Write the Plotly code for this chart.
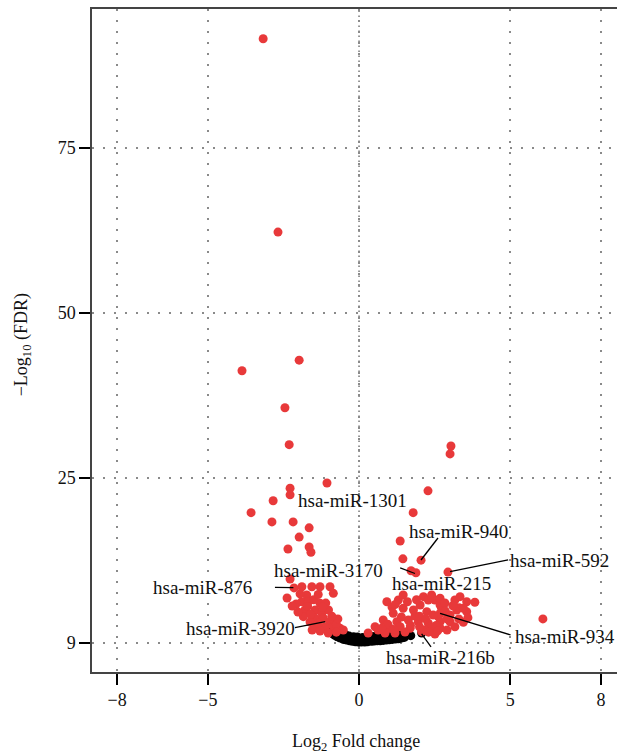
import plotly.graph_objects as go

# ---- data (log2 fold change, -log10 FDR plotting coordinate) ----
sig_x = [-3.17, -2.68, -1.98, -3.87, -2.45, -2.31, -1.06, -2.28, -2.28, -2.84,
         -3.57, -2.88, -2.18, -1.65, -1.98, -1.65, -1.59, -2.35, -2.28, -2.15,
         3.04, 3.01, 2.28, 1.79, 1.36, 1.45, 2.05, 1.88, 1.72, 2.94, 6.08,
         -1.89, -1.56, -1.29, -0.96, -0.85, -1.73, -1.89, -1.68, -1.29, -1.79,
         -1.45, -1.23, -1.01, -1.84, -1.45, -1.18, -0.96, -1.12, -0.85, -0.63,
         -0.52, -1.40, -1.62, -2.08, -2.02, -1.55, -1.29, -1.02, -2.38, -2.21,
         -1.70, -1.50, -1.35, -1.10, -1.35, -0.75, -0.70, -1.60, -1.95, -1.20,
         -0.90, -0.75,
         0.92, 1.30, 1.46, 2.13, 2.29, 2.51, 2.68, 2.40, 3.17, 3.34,
         3.56, 3.83, 3.56, 3.23, 3.01, 2.68, 2.24, 1.80, 1.46, 1.13,
         0.80, 0.53, 1.25, 1.63, 1.96, 2.29, 2.68, 3.01, 3.17, 1.69,
         1.36, 1.02, 2.40, 2.07, 3.60, 3.31, 3.45, 2.73, 2.68, 2.40,
         2.62, 0.63, 0.30, 0.86, 1.19, 1.52, 2.68, 2.91, 1.85, 1.09,
         2.02, 2.84, 2.18, 2.51,
         1.20, 1.60, 1.90, 2.00, 2.20, 2.45, 2.85, 3.10, 3.30, 1.40,
         1.70, 2.00, 2.55, 0.95, 0.75, 1.15, 2.30, 2.60, 3.45, 2.90]
sig_y = [91.5, 62.2, 42.8, 41.2, 35.6, 30.0, 24.2, 23.4, 22.4, 21.5,
         19.7, 18.3, 18.3, 17.4, 16.0, 14.5, 13.7, 14.2, 9.65, 8.3,
         29.8, 28.6, 23.0, 19.7, 15.4, 12.7, 12.5, 10.6, 10.9, 10.7, 3.6,
         8.48, 8.48, 8.48, 8.48, 7.48, 7.23, 6.21, 6.21, 5.97, 4.95,
         4.95, 4.45, 4.95, 3.94, 3.70, 3.70, 3.18, 2.42, 2.42, 2.18,
         1.92, 2.42, 3.14, 5.86, 4.65, 1.92, 1.77, 1.47, 6.77, 5.56,
         5.50, 6.50, 7.30, 6.00, 3.00, 2.80, 3.60, 4.30, 7.40, 5.40,
         4.00, 1.60,
         6.21, 6.47, 7.23, 6.97, 6.47, 6.47, 5.71, 7.23, 6.47, 6.97,
         6.21, 6.12, 4.70, 4.95, 4.20, 4.45, 4.70, 4.95, 5.21, 4.45,
         3.44, 2.42, 3.18, 3.44, 3.18, 2.94, 3.18, 3.18, 2.42, 2.18,
         2.42, 2.18, 2.18, 1.67, 3.79, 5.30, 5.21, 5.21, 6.73, 6.88,
         3.94, 1.92, 1.47, 1.47, 1.47, 1.62, 2.23, 1.92, 4.05, 5.39,
         5.71, 6.02, 1.92, 1.32,
         5.80, 6.20, 6.50, 4.00, 3.60, 4.20, 4.80, 5.60, 3.60, 3.90,
         2.60, 2.40, 2.60, 2.80, 2.20, 2.00, 1.60, 1.80, 3.10, 3.60]

ns_x = [-0.85, -0.80, -0.80, -0.72, -0.70, -0.62, -0.60, -0.52, -0.50, -0.41,
        -0.40, -0.31, -0.30, -0.22, -0.20, -0.12, -0.10, -0.02, 0.00, 0.08,
        0.10, 0.19, 0.20, 0.28, 0.30, 0.41, 0.40, 0.50, 0.52, 0.60, 0.61,
        0.70, 0.72, 0.80, 0.81, 0.90, 0.92, 1.00, 1.01, 1.10, 1.12, 1.20,
        1.21, 1.30, 1.32, 1.40, 1.41, 1.50, 1.52, 1.71, 2.07, -0.66, 0.05,
        0.35, 0.65, 0.95, 1.25, -0.35, -0.15,
        -0.78, -0.68, -0.56, -0.45, -0.33, -0.18, -0.05, 0.12, 0.25, 0.45,
        0.58, 0.75, 0.88, 1.05, 1.18, 1.35, 1.46, -0.88, -0.62]
ns_y = [1.30, 1.10, 1.55, 0.90, 1.30, 0.70, 1.10, 0.50, 0.90, 0.40,
        0.80, 0.30, 0.70, 0.20, 0.60, 0.15, 0.55, 0.10, 0.50, 0.10,
        0.50, 0.10, 0.50, 0.15, 0.55, 0.20, 0.60, 0.25, 0.65, 0.30, 0.70,
        0.30, 0.75, 0.35, 0.80, 0.40, 0.85, 0.45, 0.90, 0.50, 0.95, 0.55,
        1.00, 0.60, 1.05, 0.70, 1.10, 0.80, 1.15, 1.06, 1.47, 1.00, 0.30,
        0.35, 0.50, 0.65, 0.85, 0.55, 0.40,
        1.85, 1.60, 1.40, 1.20, 1.00, 0.90, 0.85, 0.80, 0.85, 0.95,
        1.00, 1.10, 1.15, 1.20, 1.25, 1.35, 1.40, 1.75, 1.80]

# labels: text, text x, text y, anchor
lab_text = ["hsa-miR-1301", "hsa-miR-940", "hsa-miR-592", "hsa-miR-215",
            "hsa-miR-3170", "hsa-miR-876", "hsa-miR-3920", "hsa-miR-934",
            "hsa-miR-216b"]
lab_x = [-2.08, 1.59, 4.93, 1.02, -2.88, -3.47, -2.05, 5.09, 0.83]
lab_y = [21.6, 16.8, 12.4, 8.9, 10.9, 8.4, 2.1, 0.9, -2.2]
lab_anchor = ["left", "left", "left", "left", "left", "right", "right", "left", "left"]

# leader lines: start (x0,y0) -> end (x1,y1)
lead_x0 = [-2.78, -2.12, 1.36, 2.05, 3.01, 2.68, 2.07]
lead_y0 = [8.39, 2.27, 11.32, 12.53, 10.76, 4.45, 1.32]
lead_x1 = [-2.17, -1.12, 1.85, 2.61, 4.93, 5.01, 2.38]
lead_y1 = [8.33, 3.18, 10.48, 15.86, 12.53, 1.17, -0.65]

x_tick_vals = [-8, -5, 0, 5, 8]
x_tick_text = ["\u22128", "\u22125", "0", "5", "8"]
y_tick_vals = [0, 25, 50, 75]
y_tick_text = ["9", "25", "50", "75"]

FONT = "Liberation Serif"

fig = go.Figure()
fig.add_trace(go.Scatter(x=ns_x, y=ns_y, mode="markers",
                         marker=dict(color="black", size=9, line=dict(width=0)),
                         hoverinfo="skip", showlegend=False))
fig.add_trace(go.Scatter(x=sig_x, y=sig_y, mode="markers",
                         marker=dict(color="#E8393A", size=9, line=dict(width=0)),
                         hoverinfo="skip", showlegend=False))

lx, ly = [], []
for a, b, c, d in zip(lead_x0, lead_y0, lead_x1, lead_y1):
    lx += [a, c, None]
    ly += [b, d, None]
fig.add_trace(go.Scatter(x=lx, y=ly, mode="lines",
                         line=dict(color="black", width=1.3),
                         hoverinfo="skip", showlegend=False))

for t, x, y, anc in zip(lab_text, lab_x, lab_y, lab_anchor):
    fig.add_annotation(x=x, y=y, xref="x", yref="y", text=t, showarrow=False,
                       xanchor=anc, yanchor="middle",
                       font=dict(family=FONT, size=19, color="#111"))

# dense dotted line at 0
fig.add_shape(type="line", x0=0, x1=0, y0=0, y1=1, xref="x", yref="paper",
              line=dict(color="#777", width=1.5, dash="1.5px,3.5px"), layer="below")

fig.add_annotation(x=0.503, y=-0.106, xref="paper", yref="paper",
                   text="Log<sub>2</sub> Fold change", showarrow=False,
                   xanchor="center", yanchor="middle",
                   font=dict(family=FONT, size=18, color="#111"))
fig.add_annotation(x=-0.133, y=0.493, xref="paper", yref="paper",
                   text="\u2212Log<sub>10</sub> (FDR)", showarrow=False, textangle=-90,
                   xanchor="center", yanchor="middle",
                   font=dict(family=FONT, size=18, color="#111"))

axis_common = dict(showline=True, linecolor="#444", linewidth=1.5,
                   ticks="outside", ticklen=11, tickwidth=2, tickcolor="black",
                   showgrid=True, gridcolor="#8a8a8a", gridwidth=1.5,
                   griddash="1.5px,9.5px", zeroline=False,
                   tickfont=dict(family=FONT, size=18, color="#111"))

fig.update_xaxes(range=[-8.83, 8.53], tickmode="array", tickvals=x_tick_vals,
                 ticktext=x_tick_text, mirror=True, **axis_common)
fig.update_yaxes(range=[-4.44, 96.0], tickmode="array", tickvals=y_tick_vals,
                 ticktext=y_tick_text, **axis_common)

fig.update_layout(width=617, height=755, margin=dict(l=92, r=0, t=9, b=83),
                  plot_bgcolor="white", paper_bgcolor="white")

fig.write_html("out.html")
